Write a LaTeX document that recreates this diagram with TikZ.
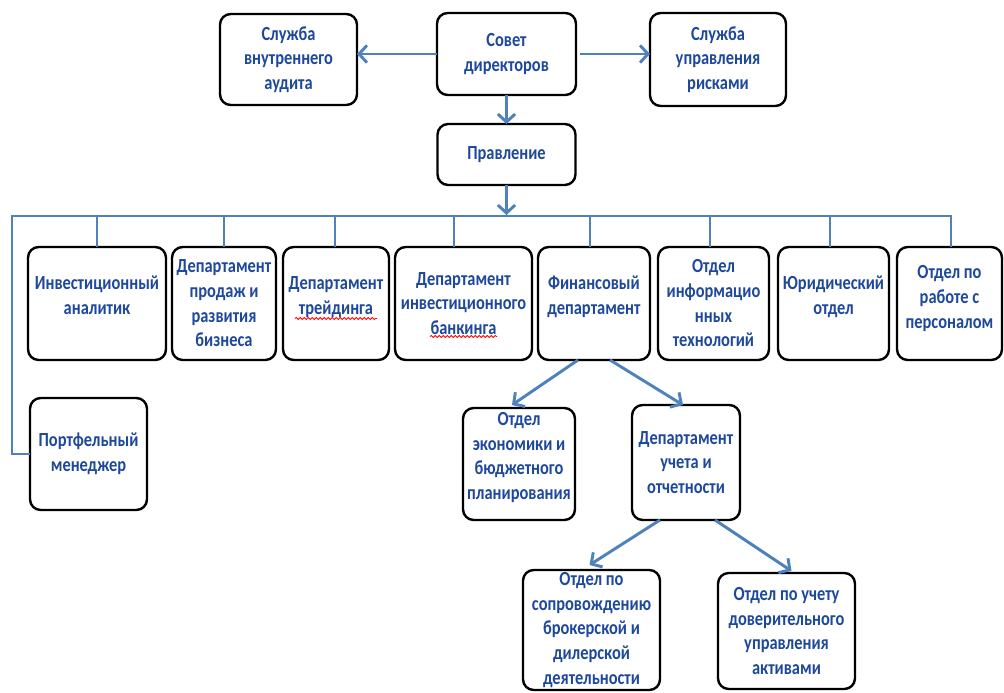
\documentclass[tikz,border=0pt]{standalone}
\usepackage{fontspec}
\setmainfont{Carlito}[FakeStretch=0.82]
\usetikzlibrary{%
    positioning, calc, arrows.meta,
    decorations.pathmorphing
}
\definecolor{boxtext}{RGB}{30,72,156}
\definecolor{linkblue}{RGB}{79,129,189}
\tikzset{
    orgbox/.style = {
        rectangle, rounded corners=8pt,
        draw=black, line width=1.8pt,
        fill=white, text=boxtext, align=center,
        font=\bfseries\fontsize{15}{18.5}\selectfont,
        inner sep=1pt,
        outer sep=0pt,
    },
    raised/.style = {text depth=#1},
    link/.style = {draw=linkblue, line width=2.2pt},
    arrowlink/.style = {
        link, -{Straight Barb[length=6pt, width=13pt]}
    },
    spellmark/.style = {
        draw=red, line width=0.6pt,
        decorate, decoration={snake, amplitude=0.8pt, segment length=3pt}
    },
}

\begin{document}
\begin{tikzpicture}[x=0.75pt, y=-0.75pt]
    \useasboundingbox (0,0) rectangle (1004,693);

    % top level
    \node[
        orgbox,
        minimum width = 104.25pt,
        minimum height = 61.5pt
    ] (board) at (506.5, 54) {Совет\\директоров};
    \node[
        orgbox,
        minimum width = 102.75pt,
        minimum height = 68.25pt
    ] (audit) at (288.5, 59.5) {Служба\\внутреннего\\аудита};
    \node[
        orgbox,
        minimum width = 102pt,
        minimum height = 69.75pt
    ] (risk) at (718, 59.5) {Служба\\управления\\рисками};
    \node[
        orgbox,
        minimum width = 103.5pt,
        minimum height = 45.75pt,
        below=21.75pt of board
    ] (mgmt) {Правление};

    % departments row
    \node[
        orgbox, raised=12pt,
        minimum width = 103.5pt,
        minimum height = 84.75pt
    ] (inv) at (97, 303.5) {Инвестиционный\\аналитик};
    \node[
        orgbox,
        minimum width = 78pt,
        minimum height = 84.75pt,
        right=4.5pt of inv
    ] (sales) {Департамент\\продаж и\\развития\\бизнеса};
    \node[
        orgbox, raised=12pt,
        minimum width = 79.5pt,
        minimum height = 84.75pt,
        right=5.25pt of sales
    ] (trade) {Департамент\\трейдинга};
    \node[
        orgbox,
        minimum width = 102.75pt,
        minimum height = 84.75pt,
        right=4.5pt of trade
    ] (ibank) {Департамент\\инвестиционного\\банкинга};
    \node[
        orgbox, raised=12pt,
        minimum width = 84pt,
        minimum height = 84.75pt,
        right=4.5pt of ibank
    ] (fin) {Финансовый\\департамент};
    \node[
        orgbox,
        minimum width = 83.25pt,
        minimum height = 84.75pt,
        right=6pt of fin
    ] (it) {Отдел\\информацио\\нных\\технологий};
    \node[
        orgbox, raised=12pt,
        minimum width = 83.25pt,
        minimum height = 84.75pt,
        right=6.75pt of it
    ] (law) {Юридический\\отдел};
    \node[
        orgbox, raised=10pt,
        minimum width = 78.75pt,
        minimum height = 84.75pt,
        right=6pt of law
    ] (hr) {Отдел по\\работе с\\персоналом};

    % lower levels
    \node[
        orgbox,
        minimum width = 87.75pt,
        minimum height = 84pt
    ] (pm) at (88.5, 454) {Портфельный\\менеджер};
    \node[
        orgbox, raised=12pt,
        minimum width = 84pt,
        minimum height = 84pt
    ] (econ) at (519, 464) {Отдел\\экономики и\\бюджетного\\планирования};
    \node[
        orgbox,
        minimum width = 81pt,
        minimum height = 86.25pt
    ] (acct) at (686, 462.5) {Департамент\\учета и\\отчетности};
    \node[
        orgbox,
        minimum width = 102.75pt,
        minimum height = 90pt
    ] (broker) at (591.5, 630) {Отдел по\\сопровождению\\брокерской и\\дилерской\\деятельности};
    \node[
        orgbox,
        minimum width = 102.75pt,
        minimum height = 87pt
    ] (trust) at (786.5, 631) {Отдел по учету\\доверительного\\управления\\активами};

    % connectors
    \draw[arrowlink] (board.west) -- (board.west -| audit.east);
    \draw[arrowlink] ([xshift=3pt]board.east) -- (board.east -| risk.west);
    \draw[arrowlink] (board.south) -- (board.south |- mgmt.north);

    \coordinate (bus) at ($(mgmt.south)+(0,30)$);
    \coordinate (busleft) at (12, 216);
    \draw[arrowlink] (mgmt.south) -- (bus);
    \draw[link] (pm.west) -| (busleft)
        -- ($(hr.north)+(1.5,-31)$) -- ($(hr.north)+(1.5,0)$);
    \foreach \dept/\dx in {inv/0, sales/0, trade/-1, ibank/-9.5,
                           fin/-4, it/-3.5, law/-3.5}
        \draw[link] ($(\dept.north)+(\dx,0)$) -- +(0,-31);

    \draw[arrowlink] ($(fin.south)+(-16,0)$) -- ($(econ.north)+(-7,-3)$);
    \draw[arrowlink] ($(fin.south)+(16,0)$) -- ($(acct.north)+(-3,0)$);
    \draw[arrowlink] ($(acct.south)+(-26,0)$) -- ($(broker.north)+(-2,-5)$);
    \draw[arrowlink] ($(acct.south)+(29,0)$) -- ($(trust.north)+(5,-2)$);

    % spell-check marks
    \draw[spellmark] ($(trade.center)+(-41,15)$) -- ($(trade.center)+(41,15)$);
    \draw[spellmark] ($(ibank.center)+(-33.5,33)$) -- ($(ibank.center)+(33.5,33)$);
\end{tikzpicture}
\end{document}
